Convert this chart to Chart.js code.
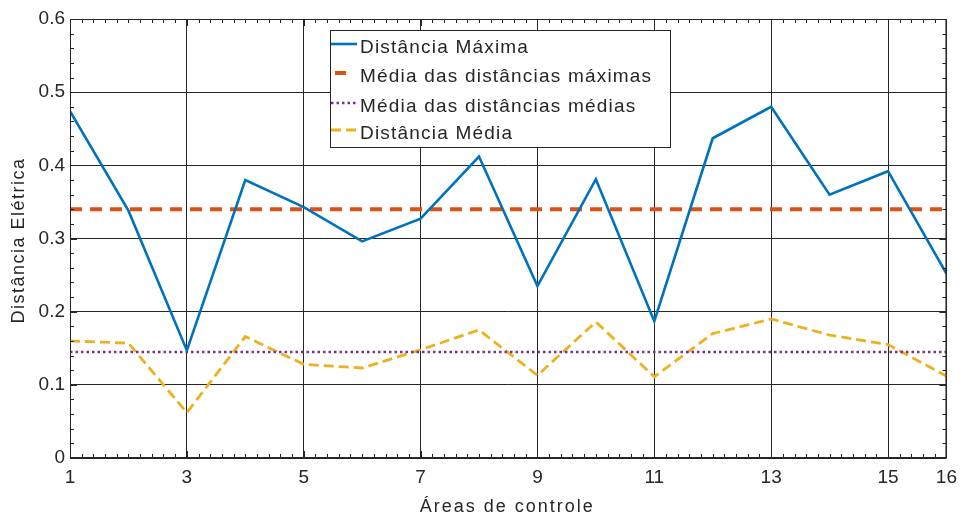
<!DOCTYPE html>
<html>
<head>
<meta charset="utf-8">
<script src="https://cdn.jsdelivr.net/npm/chart.js@4/dist/chart.umd.min.js"></script>
<style>
  html, body { margin: 0; padding: 0; background: #fff; }
  canvas { display: block; }
</style>
</head>
<body>
<canvas id="chart" width="965" height="517"></canvas>
<script>
// Data
const areas = [1, 2, 3, 4, 5, 6, 7, 8, 9, 10, 11, 12, 13, 14, 15, 16];
const distMaxima = [0.474, 0.338, 0.147, 0.380, 0.343, 0.296, 0.327, 0.412, 0.235, 0.381, 0.187, 0.437, 0.480, 0.360, 0.392, 0.252];
const distMedia = [0.160, 0.157, 0.062, 0.166, 0.128, 0.123, 0.148, 0.175, 0.113, 0.186, 0.111, 0.170, 0.190, 0.168, 0.155, 0.112];
const mediaMaximas = 0.34;
const mediaMedias = 0.145;
const xTickValues = [1, 3, 5, 7, 9, 11, 13, 15, 16];
const yTickValues = [0, 0.1, 0.2, 0.3, 0.4, 0.5, 0.6];
const seriesNames = ['Distância Máxima', 'Média das distâncias máximas', 'Média das distâncias médias', 'Distância Média'];

const INK = '#262626';
const FONT = '"Liberation Sans", Arial, sans-serif';
Chart.defaults.font.family = FONT;

// MATLAB-like frame, inner ticks, axis titles and legend box
const matlabFrame = {
    id: 'matlabFrame',
    afterDraw(chart) {
        const { ctx, chartArea: a, scales: { x, y } } = chart;
        ctx.save();

        // ticks on all four sides
        ctx.strokeStyle = INK;
        ctx.lineWidth = 1;
        ctx.beginPath();
        for (let k = 0; k <= 75; k++) {
            const px = Math.round(x.getPixelForValue(1 + k * 0.2)) + 0.5;
            const len = xTickValues.includes(Math.round((1 + k * 0.2) * 10) / 10) ? 7 : 4;
            ctx.moveTo(px, a.bottom); ctx.lineTo(px, a.bottom - len);
            ctx.moveTo(px, a.top); ctx.lineTo(px, a.top + len);
        }
        for (let k = 0; k <= 30; k++) {
            const py = Math.round(y.getPixelForValue(k * 0.02)) + 0.5;
            const len = k % 5 === 0 ? 7 : 4;
            ctx.moveTo(a.left, py); ctx.lineTo(a.left + len, py);
            ctx.moveTo(a.right, py); ctx.lineTo(a.right - len, py);
        }
        ctx.stroke();
        ctx.strokeRect(a.left + 0.5, a.top + 0.5, a.right - a.left - 1, a.bottom - a.top - 1);

        // axis titles
        ctx.fillStyle = INK;
        ctx.font = '18px ' + FONT;
        ctx.letterSpacing = '2px';
        ctx.textAlign = 'center';
        ctx.textBaseline = 'alphabetic';
        ctx.fillText('Áreas de controle', (a.left + a.right) / 2 - 1, 512);
        ctx.letterSpacing = '1.5px';
        ctx.save();
        ctx.translate(24, (a.top + a.bottom) / 2 + 2);
        ctx.rotate(-Math.PI / 2);
        ctx.fillText('Distância Elétrica', 0, 0);
        ctx.restore();

        // legend
        const box = { x: 330, y: 30, w: 340, h: 117 };
        ctx.fillStyle = '#fff';
        ctx.fillRect(box.x, box.y, box.w, box.h);
        ctx.strokeStyle = INK;
        ctx.lineWidth = 1;
        ctx.setLineDash([]);
        ctx.strokeRect(box.x + 0.5, box.y + 0.5, box.w, box.h);

        const sampleY = [44, 73, 103, 130];
        const samples = [[331, 357], [335, 346], [331, 357], [331, 357]];
        chart.data.datasets.forEach((ds, i) => {
            ctx.save();
            ctx.strokeStyle = ds.borderColor;
            ctx.lineWidth = ds.borderWidth;
            ctx.setLineDash(ds.borderDash || []);
            ctx.beginPath();
            ctx.moveTo(samples[i][0], sampleY[i]);
            ctx.lineTo(samples[i][1], sampleY[i]);
            ctx.stroke();
            ctx.restore();
            ctx.fillStyle = INK;
            ctx.font = '19px ' + FONT;
            ctx.letterSpacing = '1.2px';
            ctx.textAlign = 'left';
            ctx.fillText(ds.label, 360, sampleY[i] + 9);
        });
        ctx.restore();
    }
};

const ctx = document.getElementById('chart').getContext('2d');
new Chart(ctx, {
    type: 'line',
    data: {
        datasets: [
            {
                label: seriesNames[0],
                data: areas.map((a, i) => ({ x: a, y: distMaxima[i] })),
                borderColor: '#0072BD',
                borderWidth: 2.6,
            },
            {
                label: seriesNames[1],
                data: [{ x: areas[0], y: mediaMaximas }, { x: areas[areas.length - 1], y: mediaMaximas }],
                borderColor: '#D95319',
                borderWidth: 4,
                borderDash: [12, 8],
            },
            {
                label: seriesNames[2],
                data: [{ x: areas[0], y: mediaMedias }, { x: areas[areas.length - 1], y: mediaMedias }],
                borderColor: '#7E2F8E',
                borderWidth: 2.5,
                borderDash: [2.5, 3],
            },
            {
                label: seriesNames[3],
                data: areas.map((a, i) => ({ x: a, y: distMedia[i] })),
                borderColor: '#EDB120',
                borderWidth: 2.8,
                borderDash: [10, 5],
            }
        ]
    },
    options: {
        responsive: false,
        animation: false,
        devicePixelRatio: 1,
        elements: {
            point: { radius: 0 },
            line: { tension: 0, fill: false, borderCapStyle: 'butt' }
        },
        layout: {
            autoPadding: false,
            padding: { left: 0, right: 14, top: 19, bottom: 0 }
        },
        plugins: {
            legend: { display: false },
            tooltip: { enabled: false }
        },
        scales: {
            x: {
                type: 'linear',
                min: 1,
                max: 16,
                afterBuildTicks: (scale) => { scale.ticks = xTickValues.map(v => ({ value: v })); },
                afterFit: (scale) => { scale.height = 59; },
                grid: { color: INK, lineWidth: 1, drawTicks: false },
                border: { display: false },
                ticks: { color: INK, font: { size: 19 }, padding: 8, maxRotation: 0, autoSkip: false }
            },
            y: {
                type: 'linear',
                min: 0,
                max: 0.6,
                afterBuildTicks: (scale) => { scale.ticks = yTickValues.map(v => ({ value: v })); },
                afterFit: (scale) => { scale.width = 70; },
                grid: { color: INK, lineWidth: 1, drawTicks: false },
                border: { display: false },
                ticks: {
                    color: INK,
                    font: { size: 19 },
                    padding: 5,
                    callback: (v) => v === 0 ? '0' : v.toFixed(1)
                }
            }
        }
    },
    plugins: [matlabFrame]
});
</script>
</body>
</html>
